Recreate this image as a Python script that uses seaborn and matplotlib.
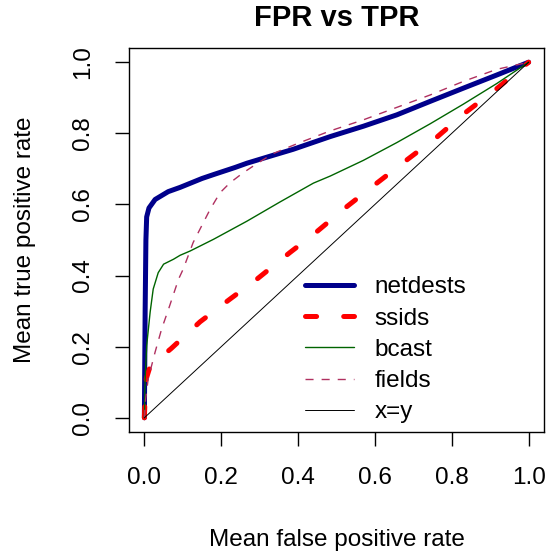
import matplotlib

matplotlib.use("Agg")
import matplotlib.pyplot as plt
import seaborn as sns

# ROC-style curves
netdests_fpr = [0.0, 0.002, 0.004, 0.006, 0.012, 0.028, 0.062, 0.093, 0.150, 0.180,
                0.236, 0.267, 0.322, 0.387, 0.484, 0.570, 0.657, 0.744, 0.830, 0.917, 1.0]
netdests_tpr = [0.0, 0.30, 0.50, 0.565, 0.590, 0.614, 0.636, 0.648, 0.673, 0.684,
                0.704, 0.716, 0.734, 0.755, 0.791, 0.820, 0.852, 0.890, 0.927, 0.964, 1.0]

ssids_fpr = [0.0, 0.002, 0.005, 0.015, 0.070, 0.145, 0.223, 0.293, 0.379, 0.445,
             0.527, 0.605, 0.684, 0.762, 0.835, 0.913, 1.0]
ssids_tpr = [0.0, 0.06, 0.11, 0.145, 0.195, 0.270, 0.334, 0.390, 0.465, 0.520,
             0.594, 0.660, 0.726, 0.790, 0.858, 0.922, 1.0]

bcast_fpr = [0.0, 0.002, 0.006, 0.015, 0.023, 0.036, 0.050, 0.076, 0.093, 0.119,
             0.180, 0.267, 0.353, 0.440, 0.484, 0.570, 0.657, 0.744, 0.830, 0.917, 1.0]
bcast_tpr = [0.0, 0.11, 0.203, 0.297, 0.362, 0.408, 0.432, 0.446, 0.457, 0.469,
             0.502, 0.553, 0.607, 0.660, 0.680, 0.724, 0.774, 0.827, 0.882, 0.940, 1.0]

fields_fpr = [0.0, 0.003, 0.010, 0.028, 0.045, 0.063, 0.089, 0.101, 0.127, 0.171,
              0.197, 0.223, 0.257, 0.296, 0.335, 0.400, 0.484, 0.570, 0.657, 0.744,
              0.830, 0.917, 1.0]
fields_tpr = [0.0, 0.05, 0.110, 0.185, 0.250, 0.306, 0.390, 0.418, 0.493, 0.586,
              0.633, 0.661, 0.689, 0.717, 0.743, 0.772, 0.807, 0.838, 0.873, 0.908,
              0.946, 0.980, 1.0]

diag_fpr = [0.0, 1.0]
diag_tpr = [0.0, 1.0]

ticks = [0.0, 0.2, 0.4, 0.6, 0.8, 1.0]
tick_labels = ["0.0", "0.2", "0.4", "0.6", "0.8", "1.0"]

sns.set_style("ticks")
plt.rcParams["font.family"] = ["Liberation Sans", "DejaVu Sans"]
plt.rcParams["lines.scale_dashes"] = False
plt.rcParams["text.color"] = "black"
plt.rcParams["axes.labelcolor"] = "black"

fig = plt.figure(figsize=(5.48, 5.55), dpi=100)
ax = fig.add_axes([129 / 548, 1 - 432 / 555, 415 / 548, 384 / 555])

series = [
    ("netdests", netdests_fpr, netdests_tpr, "#00008B", 3.6, "-"),
    ("ssids", ssids_fpr, ssids_tpr, "#FF0000", 3.6, (0, (8, 19.5))),
    ("bcast", bcast_fpr, bcast_tpr, "#006400", 1.0, "-"),
    ("fields", fields_fpr, fields_tpr, "#B03060", 1.0, (0, (5.8, 5.8))),
    ("x=y", diag_fpr, diag_tpr, "black", 0.7, "-"),
]
for i, (name, xs, ys, color, lw, ls) in enumerate(series):
    sns.lineplot(
        x=xs, y=ys, ax=ax, color=color, linewidth=lw, linestyle=ls,
        label=name, sort=False, estimator=None, zorder=2 + i,
        solid_capstyle="round", dash_capstyle="round" if lw > 2 else "butt",
    )

ax.set_xlim(-0.04, 1.04)
ax.set_ylim(-0.04, 1.04)
ax.set_xticks(ticks)
ax.set_xticklabels(tick_labels)
ax.set_yticks(ticks)
ax.set_yticklabels(tick_labels, rotation=90, va="center")
ax.tick_params(axis="both", direction="out", length=10, width=1.0,
               labelsize=17.5, colors="black", pad=15)
for spine in ax.spines.values():
    spine.set_visible(True)
    spine.set_linewidth(1.0)
    spine.set_color("black")

ax.set_title("FPR vs TPR", fontsize=21, fontweight="bold", pad=16)
ax.set_xlabel("Mean false positive rate", fontsize=17.5, labelpad=29)
ax.set_ylabel("Mean true positive rate", fontsize=17.5, labelpad=26)

ax.legend(
    loc="upper left", bbox_to_anchor=(0.425, 0.405), frameon=False,
    fontsize=17.5, handlelength=2.0, handletextpad=0.85, labelspacing=0.38,
    borderpad=0, borderaxespad=0,
)

fig.savefig("out.png", dpi=100)
